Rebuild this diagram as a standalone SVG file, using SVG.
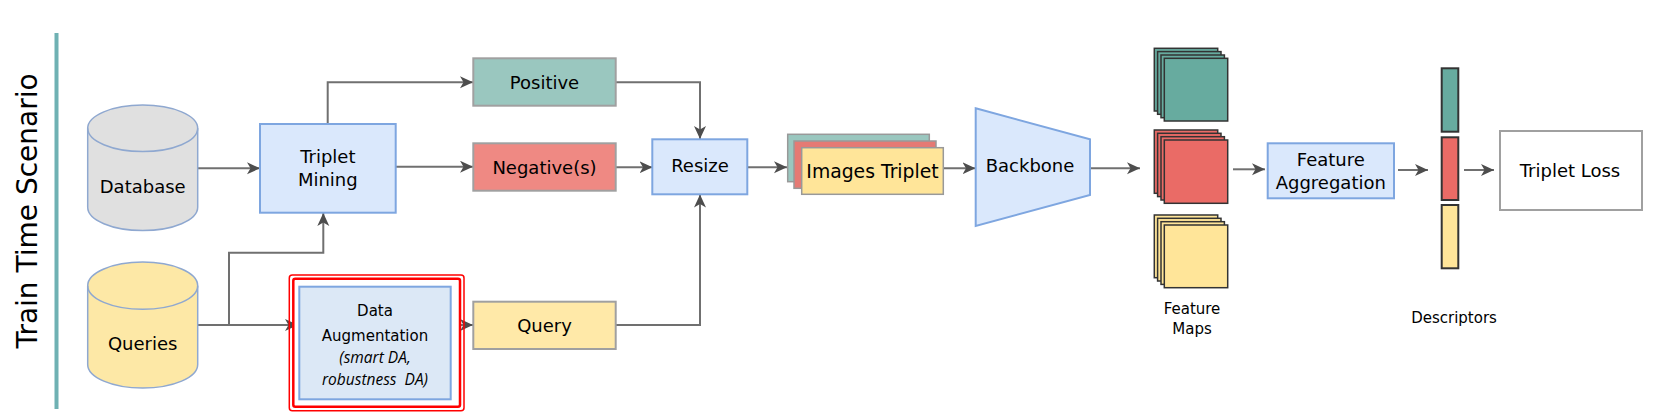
<svg xmlns="http://www.w3.org/2000/svg" width="1657" height="420" viewBox="0 0 1657 420">
<style>
  text { font-family: "DejaVu Sans", Verdana, sans-serif; fill: #000; }
  .t18 { font-size: 18px; text-anchor: middle; }
  .t15 { font-size: 15px; text-anchor: middle; }
  .it { font-family: "Open Sans", "DejaVu Sans", sans-serif; font-style: italic; font-size: 15.5px; text-anchor: middle; white-space: pre; }
  .blue { fill: #dae8fc; stroke: #7ea6e0; stroke-width: 2; }
  .grayb { stroke: #a0a0a0; stroke-width: 2; }
  .dark { stroke: #333; stroke-width: 1.5; }
  .conn { fill: none; stroke: #707070; stroke-width: 2; }
  .teal { fill: #67ab9f; }
  .red { fill: #ea6b66; }
  .yel { fill: #ffe599; }
</style>
<defs>
  <marker id="arr" markerUnits="userSpaceOnUse" markerWidth="14" markerHeight="13" refX="13" refY="6" orient="auto">
    <path d="M0,0 L13,6 L0,12 L3.5,6 Z" fill="#4d4d4d"/>
  </marker>
</defs>

<g id="title">
  <line x1="56.5" y1="33" x2="56.5" y2="409" stroke="#6fb1b3" stroke-width="4"/>
  <text transform="translate(37,211) rotate(-90)" style="font-size:28px;text-anchor:middle">Train Time Scenario</text>
</g>

<g id="connectors">
  <path class="conn" d="M198,168.3 H260" marker-end="url(#arr)"/>
  <path class="conn" d="M198,325 H298" marker-end="url(#arr)"/>
  <path class="conn" d="M229,325 V252.7 H323.3 V213" marker-end="url(#arr)"/>
  <path class="conn" d="M327.7,124 V82.3 H473" marker-end="url(#arr)"/>
  <path class="conn" d="M396,166.7 H473" marker-end="url(#arr)"/>
  <path class="conn" d="M451,325 H473" marker-end="url(#arr)"/>
  <path class="conn" d="M616,82.3 H700 V139" marker-end="url(#arr)"/>
  <path class="conn" d="M616,167.3 H652.5" marker-end="url(#arr)"/>
  <path class="conn" d="M616,325 H700 V194.5" marker-end="url(#arr)"/>
  <path class="conn" d="M747.5,167.3 H787" marker-end="url(#arr)"/>
  <path class="conn" d="M943.5,168.3 H975.5" marker-end="url(#arr)"/>
  <path class="conn" d="M1090,168.3 H1140" marker-end="url(#arr)"/>
  <path class="conn" d="M1233,169.3 H1265" marker-end="url(#arr)"/>
  <path class="conn" d="M1398,170 H1428" marker-end="url(#arr)"/>
  <path class="conn" d="M1464,170 H1494" marker-end="url(#arr)"/>
</g>

<g id="database">
  <path d="M87.7,128.3 A55,23.3 0 0 1 197.7,128.3 V207.3 A55,23.3 0 0 1 87.7,207.3 Z" fill="#e0e0e0" stroke="#8fa8d0" stroke-width="1.5"/>
  <path d="M87.7,128.3 A55,23.3 0 0 0 197.7,128.3" fill="none" stroke="#8fa8d0" stroke-width="1.5"/>
  <text class="t18" x="142.7" y="193">Database</text>
</g>

<g id="queries">
  <path d="M87.7,285.7 A55,23.6 0 0 1 197.7,285.7 V364.4 A55,23.6 0 0 1 87.7,364.4 Z" fill="#fde8a6" stroke="#8fa8d0" stroke-width="1.5"/>
  <path d="M87.7,285.7 A55,23.6 0 0 0 197.7,285.7" fill="none" stroke="#8fa8d0" stroke-width="1.5"/>
  <text class="t18" x="142.7" y="350">Queries</text>
</g>

<g id="triplet-mining">
  <rect class="blue" x="260" y="124" width="135.7" height="88.7"/>
  <text class="t18" x="327.8" y="162.7">Triplet</text>
  <text class="t18" x="327.8" y="186">Mining</text>
</g>

<g id="data-augmentation">
  <rect x="289.3" y="275" width="174.7" height="135.7" rx="3" fill="none" stroke="#ff0000" stroke-width="1.5"/>
  <rect x="293.3" y="278.7" width="166.7" height="128" rx="2" fill="#fff" stroke="#ff0000" stroke-width="2.5"/>
  <rect x="299.3" y="286.7" width="151.4" height="112.6" fill="#dce8f6" stroke="#7ea6e0" stroke-width="2"/>
  <text class="t15" x="375" y="316">Data</text>
  <text class="t15" x="375" y="340.7">Augmentation</text>
  <text class="it" x="375" y="362.7">(smart DA,</text>
  <text class="it" x="375" y="385">robustness  DA)</text>
</g>

<g id="positive">
  <rect class="grayb" x="473.3" y="58.3" width="142.4" height="47.4" fill="#9ac7bf"/>
  <text class="t18" x="544.5" y="88.5">Positive</text>
</g>

<g id="negatives">
  <rect class="grayb" x="473.3" y="143.3" width="142.4" height="47.4" fill="#ef8983"/>
  <text class="t18" x="544.5" y="173.5">Negative(s)</text>
</g>

<g id="query">
  <rect class="grayb" x="473.3" y="301.7" width="142.4" height="47.3" fill="#ffe9a8"/>
  <text class="t18" x="544.5" y="331.8">Query</text>
</g>

<g id="resize">
  <rect class="blue" x="652.3" y="139.3" width="95" height="55"/>
  <text class="t18" x="700" y="171.7">Resize</text>
</g>

<g id="images-triplet">
  <rect x="787.7" y="134.3" width="141.6" height="47.4" fill="#9ac7bf" stroke="#999" stroke-width="1.5"/>
  <rect x="794" y="141" width="142" height="47.3" fill="#e57a74" stroke="#999" stroke-width="1.5"/>
  <rect x="801.7" y="147.7" width="141.6" height="46.6" fill="#ffe599" stroke="#999" stroke-width="1.5"/>
  <text x="872.5" y="177.5" style="font-size:18.8px;text-anchor:middle">Images Triplet</text>
</g>

<g id="backbone">
  <path class="blue" d="M975.7,108.3 L1090,139.3 L1090,195 L975.7,226 Z"/>
  <text class="t18" x="1030" y="171.7">Backbone</text>
</g>

<g id="feature-maps">
  <g class="teal dark">
    <rect x="1154.3" y="48.3" width="63.4" height="62.7"/>
    <rect x="1157.6" y="51.6" width="63.4" height="62.7"/>
    <rect x="1161" y="55" width="63.4" height="62.7"/>
    <rect x="1164.3" y="58.3" width="63.4" height="62.7"/>
  </g>
  <g class="red dark">
    <rect x="1154.3" y="130" width="63.4" height="63.3"/>
    <rect x="1157.6" y="133.3" width="63.4" height="63.3"/>
    <rect x="1161" y="136.7" width="63.4" height="63.3"/>
    <rect x="1164.3" y="140" width="63.4" height="63.3"/>
  </g>
  <g class="yel dark">
    <rect x="1154.3" y="215" width="63.4" height="62.7"/>
    <rect x="1157.6" y="218.3" width="63.4" height="62.7"/>
    <rect x="1161" y="221.7" width="63.4" height="62.7"/>
    <rect x="1164.3" y="225" width="63.4" height="62.7"/>
  </g>
  <text class="t15" x="1192" y="314">Feature</text>
  <text class="t15" x="1192" y="334">Maps</text>
</g>

<g id="feature-aggregation">
  <rect class="blue" x="1267.7" y="143.3" width="126.3" height="55"/>
  <text class="t18" x="1330.8" y="166">Feature</text>
  <text class="t18" x="1330.8" y="189.3">Aggregation</text>
</g>

<g id="descriptors">
  <rect class="teal" x="1441.7" y="68.3" width="16.6" height="63.4" stroke="#333" stroke-width="2"/>
  <rect class="red" x="1441.7" y="137.3" width="16.6" height="62.7" stroke="#333" stroke-width="2"/>
  <rect class="yel" x="1441.7" y="205" width="16.6" height="63.3" stroke="#333" stroke-width="2"/>
  <text class="t15" x="1454" y="323.3">Descriptors</text>
</g>

<g id="triplet-loss">
  <rect x="1500" y="131" width="142" height="79" fill="#fff" stroke="#a0a0a0" stroke-width="2"/>
  <text class="t18" x="1570" y="176.7">Triplet Loss</text>
</g>
</svg>
